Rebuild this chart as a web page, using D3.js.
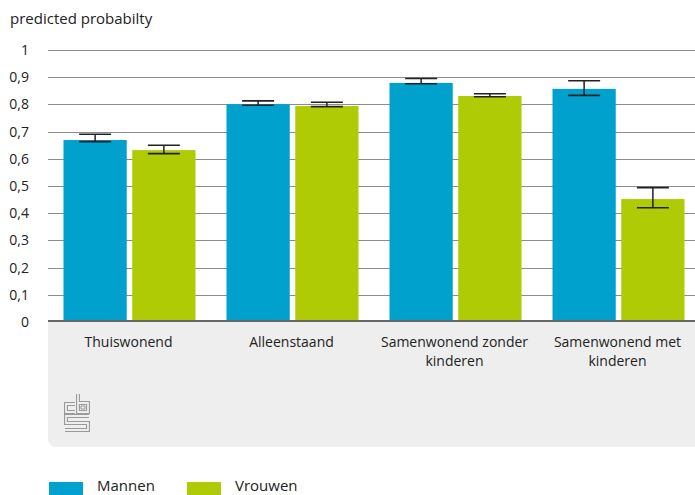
<!DOCTYPE html>
<html>
<head>
<meta charset="utf-8">
<script src="https://cdn.jsdelivr.net/npm/d3@7"></script>
<style>
  html, body { margin: 0; padding: 0; background: #fff; }
  svg { display: block; font-family: "Open Sans", sans-serif; }
</style>
</head>
<body>
<svg id="chart" width="695" height="495"></svg>
<script>
// ---- data ----
const categories = ["Thuiswonend", "Alleenstaand", "Samenwonend zonder kinderen", "Samenwonend met kinderen"];
const series = ["Mannen", "Vrouwen"];
const mannen      = [0.669, 0.801, 0.879, 0.857];
const mannenLow   = [0.663, 0.797, 0.876, 0.833];
const mannenHigh  = [0.690, 0.813, 0.895, 0.887];
const vrouwen     = [0.632, 0.794, 0.831, 0.452];
const vrouwenLow  = [0.619, 0.792, 0.828, 0.420];
const vrouwenHigh = [0.650, 0.808, 0.839, 0.494];
const yTicks = [0, 0.1, 0.2, 0.3, 0.4, 0.5, 0.6, 0.7, 0.8, 0.9, 1];
const yTickLabels = ["0", "0,1", "0,2", "0,3", "0,4", "0,5", "0,6", "0,7", "0,8", "0,9", "1"];
const yTitle = "predicted probabilty";
const colors = ["#00a1cd", "#afcb05"];

const values = [mannen, vrouwen];
const lows = [mannenLow, vrouwenLow];
const highs = [mannenHigh, vrouwenHigh];

const rows = [];
categories.forEach((c, i) => series.forEach((s, j) => {
  rows.push({cat: c, ser: s, v: values[j][i], lo: lows[j][i], hi: highs[j][i], color: colors[j]});
}));

// ---- layout ----
const svg = d3.select("#chart");
const W = 695;
const plotLeft = 48, plotTop = 50, plotBottom = 322;

const x0 = d3.scaleBand().domain(categories).range([48, 700]).padding(0);
const x1 = d3.scaleBand().domain(series).range([15.5, 147.5]).paddingInner(0.08).paddingOuter(0);
const y = d3.scaleLinear().domain([0, 1]).range([plotBottom, plotTop]);
const color = d3.scaleOrdinal().domain(series).range(colors);

// grey category area
const areaBottom = 447, r = 8;
svg.append("path")
  .attr("d", `M${plotLeft},${plotBottom} H${W} V${areaBottom} H${plotLeft + r} A${r},${r} 0 0 1 ${plotLeft},${areaBottom - r} Z`)
  .attr("fill", "#eeeeee");

// title
svg.append("text").attr("x", 10).attr("y", 24)
  .attr("font-size", 15).attr("fill", "#222").text(yTitle);

// gridlines
svg.append("g").selectAll("line").data(yTicks.filter(d => d > 0)).join("line")
  .attr("x1", plotLeft).attr("x2", W)
  .attr("y1", d => Math.round(y(d)) + 0.5).attr("y2", d => Math.round(y(d)) + 0.5)
  .attr("stroke", "#8c8c8c").attr("stroke-width", 1.2);

// y axis labels
const yAxis = d3.axisLeft(y).tickValues(yTicks)
  .tickFormat((d, i) => yTickLabels[i]).tickSize(0).tickPadding(3);
const yg = svg.append("g").attr("transform", "translate(32,0)").call(yAxis);
yg.select(".domain").remove();
yg.selectAll("text").attr("font-size", 14).attr("fill", "#222").attr("font-family", "Open Sans, sans-serif");

// bars
const groups = svg.append("g").selectAll("g").data(categories).join("g")
  .attr("transform", d => `translate(${x0(d)},0)`);
groups.selectAll("rect").data(c => rows.filter(r => r.cat === c)).join("rect")
  .attr("x", d => x1(d.ser)).attr("width", x1.bandwidth())
  .attr("y", d => y(d.v)).attr("height", d => y(0) - y(d.v))
  .attr("fill", d => color(d.ser));

// error bars
const capW = 32;
const eb = groups.selectAll("g.err").data(c => rows.filter(r => r.cat === c)).join("g").attr("class", "err")
  .attr("transform", d => `translate(${x1(d.ser) + x1.bandwidth() / 2},0)`);
eb.append("line").attr("x1", 0).attr("x2", 0)
  .attr("y1", d => y(d.hi)).attr("y2", d => y(d.lo))
  .attr("stroke", "#222").attr("stroke-width", 1.5);
eb.append("line").attr("x1", -capW / 2).attr("x2", capW / 2)
  .attr("y1", d => y(d.hi)).attr("y2", d => y(d.hi))
  .attr("stroke", "#222").attr("stroke-width", 1.6);
eb.append("line").attr("x1", -capW / 2).attr("x2", capW / 2)
  .attr("y1", d => y(d.lo)).attr("y2", d => y(d.lo))
  .attr("stroke", "#222").attr("stroke-width", 1.6);

// baseline
svg.append("line").attr("x1", plotLeft).attr("x2", W)
  .attr("y1", y(0) - 1).attr("y2", y(0) - 1)
  .attr("stroke", "#666").attr("stroke-width", 2);

// category labels (wrapped)
const labelG = svg.append("g");
categories.forEach(c => {
  const cx = x0(c) + x0.bandwidth() / 2 - 1;
  const t = labelG.append("text").attr("x", cx).attr("y", 347)
    .attr("text-anchor", "middle").attr("font-size", 14).attr("fill", "#222");
  const words = c.split(" ");
  let line = [];
  let tspan = t.append("tspan").attr("x", cx).attr("dy", 0);
  words.forEach(w => {
    line.push(w);
    tspan.text(line.join(" "));
    if (tspan.node().getComputedTextLength() > 150 && line.length > 1) {
      line.pop();
      tspan.text(line.join(" "));
      line = [w];
      tspan = t.append("tspan").attr("x", cx).attr("dy", 19).text(w);
    }
  });
});

// CBS logo
const logo = svg.append("g").attr("transform", "translate(64,393)").attr("fill", "none")
  .attr("stroke-linejoin", "miter").attr("stroke-linecap", "butt");
const logoPaths = [
  "M11 11 H2 V19 H11",
  "M14 1 V19 H24 V10 H14",
  "M17 13 H21 V16 H17 Z",
  "M25 23 H2 V30 H24 V37 H1"
];
logoPaths.forEach((p, i) => {
  logo.append("path").attr("d", p).attr("stroke", "#9a9a9a").attr("stroke-width", i === 2 ? 1 : 4);
  if (i !== 2) logo.append("path").attr("d", p).attr("stroke", "#eeeeee").attr("stroke-width", 1.8);
});

// legend
const legend = svg.append("g");
const legendX = [49, 187];
series.forEach((s, i) => {
  legend.append("rect").attr("x", legendX[i]).attr("y", 482).attr("width", 34).attr("height", 14).attr("fill", color(s));
  legend.append("text").attr("x", legendX[i] + 48).attr("y", 491).attr("font-size", 15).attr("fill", "#222").text(s);
});
</script>
</body>
</html>
